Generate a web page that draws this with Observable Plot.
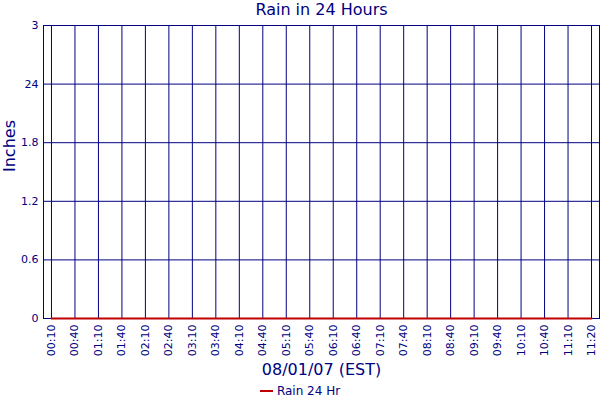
<!DOCTYPE html>
<html>
<head>
<meta charset="utf-8">
<script src="https://cdn.jsdelivr.net/npm/d3@7"></script>
<script src="https://cdn.jsdelivr.net/npm/@observablehq/plot@0.6"></script>
<style>
  html, body { margin: 0; padding: 0; background: white; }
  body { width: 600px; height: 400px; overflow: hidden; font-family: "DejaVu Sans", Verdana, sans-serif; color: #000080; }
  #title { height: 22px; line-height: 20px; font-size: 16px; text-align: center; padding-left: 43px; box-sizing: border-box; }
  #legend { height: 22px; padding-top: 3px; box-sizing: border-box; display: flex; justify-content: center; align-items: center; font-size: 12px; }
  #legend .sw { display: inline-block; width: 13px; height: 2px; background: #c00000; margin-right: 4px; }
</style>
</head>
<body>
<div id="title">Rain in 24 Hours</div>
<div id="chart"></div>
<div id="legend"><span class="sw"></span><span>Rain 24 Hr</span></div>
<script>
const timeLabels = ["00:10","00:40","01:10","01:40","02:10","02:40","03:10","03:40","04:10","04:40","05:10","05:40","06:10","06:40","07:10","07:40","08:10","08:40","09:10","09:40","10:10","10:40","11:10","11:20"];
const rainValues = [0,0,0,0,0,0,0,0,0,0,0,0,0,0,0,0,0,0,0,0,0,0,0,0];
const yTicks = [0, 0.6, 1.2, 1.8, 2.4, 3];
const yTickLabels = ["0","0.6","1.2","1.8","24","3"];
const seriesName = "Rain 24 Hr";

const yLabelMap = new Map(yTicks.map((v, i) => [v, yTickLabels[i]]));
const data = timeLabels.map((s, i) => ({t: s, v: rainValues[i]}));

const navy = "#000080";
const chart = Plot.plot({
  width: 600,
  height: 356,
  marginTop: 3,
  marginLeft: 43,
  marginRight: 1,
  marginBottom: 60,
  style: {fontFamily: "DejaVu Sans, Verdana, sans-serif", fontSize: "11px", color: navy, background: "white", overflow: "visible"},
  x: {type: "point", domain: timeLabels, padding: 0.34, round: false, tickRotate: -90, tickSize: 0, tickPadding: 6, label: null},
  y: {domain: [0, 3], ticks: yTicks, tickFormat: v => yLabelMap.get(v), tickSize: 0, tickPadding: 5, label: null},
  marks: [
    Plot.ruleX(timeLabels, {stroke: navy, strokeWidth: 1}),
    Plot.ruleY(yTicks, {stroke: navy, strokeWidth: 1}),
    Plot.frame({stroke: navy, strokeWidth: 1}),
    Plot.lineY(data, {x: "t", y: "v", stroke: "#c00000", strokeWidth: 2}),
    Plot.text(["Inches"], {frameAnchor: "left", rotate: -90, dx: -34, fontSize: 16, fill: navy}),
    Plot.text(["08/01/07 (EST)"], {frameAnchor: "bottom", dy: 56, fontSize: 16, fill: navy})
  ]
});
document.getElementById("chart").appendChild(chart);
document.querySelector("#legend span:last-child").textContent = seriesName;
</script>
</body>
</html>
